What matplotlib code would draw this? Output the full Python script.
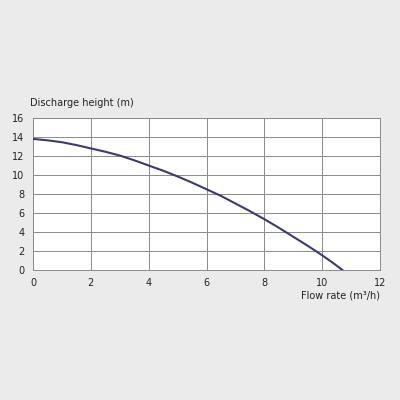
import matplotlib
matplotlib.use("Agg")
import matplotlib.pyplot as plt

flow = [0, 0.5, 1, 1.5, 2, 2.5, 3, 3.5, 4, 4.5, 5, 5.5, 6, 6.5, 7, 7.5, 8, 8.5, 9, 9.5, 10, 10.35, 10.7]
height = [13.8, 13.65, 13.45, 13.15, 12.8, 12.45, 12.05, 11.55, 11.0, 10.45, 9.85, 9.2, 8.5, 7.8, 7.0, 6.2, 5.35, 4.45, 3.5, 2.55, 1.55, 0.8, 0.0]
xticks = [0, 2, 4, 6, 8, 10, 12]
yticks = [0, 2, 4, 6, 8, 10, 12, 14, 16]

fig = plt.figure(figsize=(4, 4), dpi=100, facecolor="#ebebeb")
ax = fig.add_axes([0.0825, 0.325, 0.8675, 0.38])
ax.set_facecolor("white")
ax.plot(flow, height, color="#3b3878", lw=1.5, zorder=3)
ax.set_xlim(0, 12)
ax.set_ylim(0, 16)
ax.set_xticks(xticks)
ax.set_yticks(yticks)
ax.grid(True, color="#8a8a8a", lw=0.7)
for s in ax.spines.values():
    s.set_color("#8a8a8a")
    s.set_linewidth(0.7)
ax.tick_params(length=0, labelsize=7, colors="#222222", pad=6)
fig.text(0.075, 0.73, "Discharge height (m)", fontsize=7, color="#222222", va="bottom")
fig.text(0.95, 0.26, "Flow rate (m³/h)", fontsize=7, color="#222222", ha="right", va="center")
fig.savefig("out.png", dpi=100, facecolor=fig.get_facecolor())
